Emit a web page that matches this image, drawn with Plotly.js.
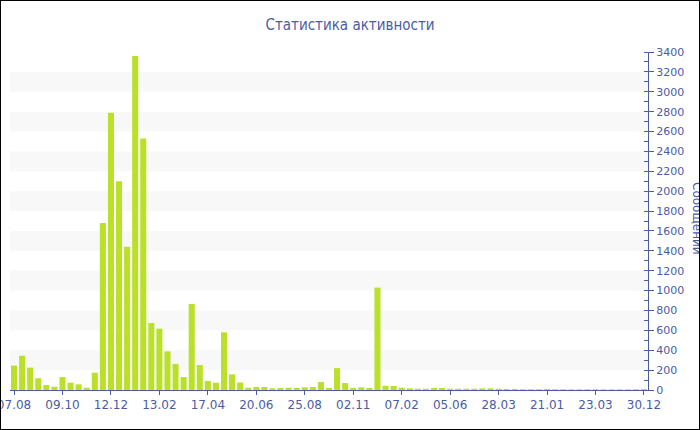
<!DOCTYPE html>
<html>
<head>
<meta charset="utf-8">
<script src="https://cdn.plot.ly/plotly-3.0.1.min.js"></script>
<style>
  html, body { margin: 0; padding: 0; background: #fff; }
  #wrap { position: relative; width: 700px; height: 430px; }
  #chart { width: 700px; height: 430px; }
  #frame { position: absolute; left: 0; top: 0; width: 700px; height: 430px; box-sizing: border-box; border: 1px solid #000; pointer-events: none; }
</style>
</head>
<body>
<div id="wrap"><div id="chart"></div><div id="frame"></div></div>
<script>
const chartTitle = "Статистика активности";
const yTitle = "Сообщений";

const dates = [
  "07.08.2008","17.08.2008","28.08.2008","07.09.2008","18.09.2008","28.09.2008","09.10.2008","20.10.2008","30.10.2008","10.11.2008","21.11.2008","01.12.2008","12.12.2008","22.12.2008",
  "02.01.2009","12.01.2009","23.01.2009","02.02.2009","13.02.2009","23.02.2009","06.03.2009","16.03.2009","27.03.2009","06.04.2009","17.04.2009","28.04.2009","08.05.2009","19.05.2009","30.05.2009","09.06.2009","20.06.2009","01.07.2009","12.07.2009","23.07.2009","03.08.2009","14.08.2009","25.08.2009","05.09.2009","17.09.2009","28.09.2009","10.10.2009","21.10.2009","02.11.2009","18.11.2009","04.12.2009","20.12.2009",
  "06.01.2010","22.01.2010","07.02.2010","27.02.2010","19.03.2010","08.04.2010","27.04.2010","17.05.2010","05.06.2010","24.07.2010","11.09.2010","30.10.2010","18.12.2010",
  "08.02.2011","28.03.2011","17.05.2011","06.07.2011","25.08.2011","14.10.2011","03.12.2011",
  "21.01.2012","30.03.2012","07.06.2012","16.08.2012","25.10.2012",
  "03.01.2013","23.03.2013","09.05.2013","25.06.2013","11.08.2013","27.09.2013","13.11.2013","30.12.2013"
];

const messages = [
  245, 345, 225, 118, 50, 33, 130, 73, 57, 23,
  174, 1680, 2790, 2100, 1440, 3360, 2530, 674, 617, 389,
  262, 131, 865, 251, 91, 73, 580, 158, 75, 23,
  30, 30, 17, 20, 23, 20, 27, 30, 80, 20,
  220, 70, 20, 27, 20, 1030, 43, 40, 23, 17,
  13, 13, 20, 20, 13, 13, 13, 13, 17, 17,
  13, 10, 10, 8, 8, 8, 10, 8, 8, 7,
  7, 8, 8, 7, 7, 7, 7, 8, 10
];

const tickEvery = 6;
const yMax = 3400;
const yStep = 200;

const axisColor = "#4a5ca3";
const barColor = "#bbe02a";
const bandColor = "#f8f8f8";

const tickVals = dates.filter((d, i) => i % tickEvery === 0);
const tickText = tickVals.map(d => d.slice(0, 5));

const bands = [];
for (let v = yStep; v < yMax; v += 2 * yStep) {
  bands.push({
    type: "rect", xref: "paper", yref: "y", x0: 0, x1: 1, y0: v, y1: v + yStep,
    fillcolor: bandColor, line: { width: 0 }, layer: "below"
  });
}

const trace = {
  type: "bar",
  x: dates,
  y: messages,
  marker: { color: barColor, line: { width: 0 } },
  hoverinfo: "x+y"
};

const layout = {
  width: 700, height: 430,
  margin: { l: 10, r: 52, t: 52, b: 40 },
  paper_bgcolor: "#ffffff",
  plot_bgcolor: "#ffffff",
  showlegend: false,
  bargap: 0.25,
  title: {
    text: chartTitle,
    font: { family: "DejaVu Sans Condensed, DejaVu Sans", size: 15, color: axisColor },
    x: 0.5, xanchor: "center", y: 1 - 25 / 430, yanchor: "middle"
  },
  xaxis: {
    type: "category",
    tickmode: "array",
    tickvals: tickVals,
    ticktext: tickText,
    range: [-0.5, dates.length - 0.5],
    showgrid: false,
    zeroline: false,
    showline: true,
    linecolor: axisColor,
    linewidth: 1,
    ticks: "outside",
    ticklen: 4,
    tickcolor: axisColor,
    tickangle: 0,
    tickfont: { family: "DejaVu Sans", size: 12, color: axisColor },
    fixedrange: true
  },
  yaxis: {
    side: "right",
    range: [0, yMax],
    tickmode: "linear",
    tick0: 0,
    dtick: yStep,
    showgrid: false,
    zeroline: false,
    showline: true,
    linecolor: axisColor,
    linewidth: 1,
    ticks: "outside",
    ticklen: 5,
    tickcolor: axisColor,
    minor: { dtick: yStep / 2, ticks: "inside", ticklen: 4, tickcolor: axisColor, showgrid: false },
    tickfont: { family: "DejaVu Sans", size: 11, color: axisColor },
    fixedrange: true
  },
  shapes: bands,
  annotations: [{
    text: yTitle, textangle: 90,
    xref: "paper", yref: "paper",
    x: (697 - 10) / 638, y: 1 - (219 - 52) / 338,
    xanchor: "center", yanchor: "middle",
    showarrow: false,
    font: { family: "DejaVu Sans", size: 12, color: axisColor }
  }]
};

Plotly.newPlot("chart", [trace], layout, { displayModeBar: false, staticPlot: true });
</script>
</body>
</html>
